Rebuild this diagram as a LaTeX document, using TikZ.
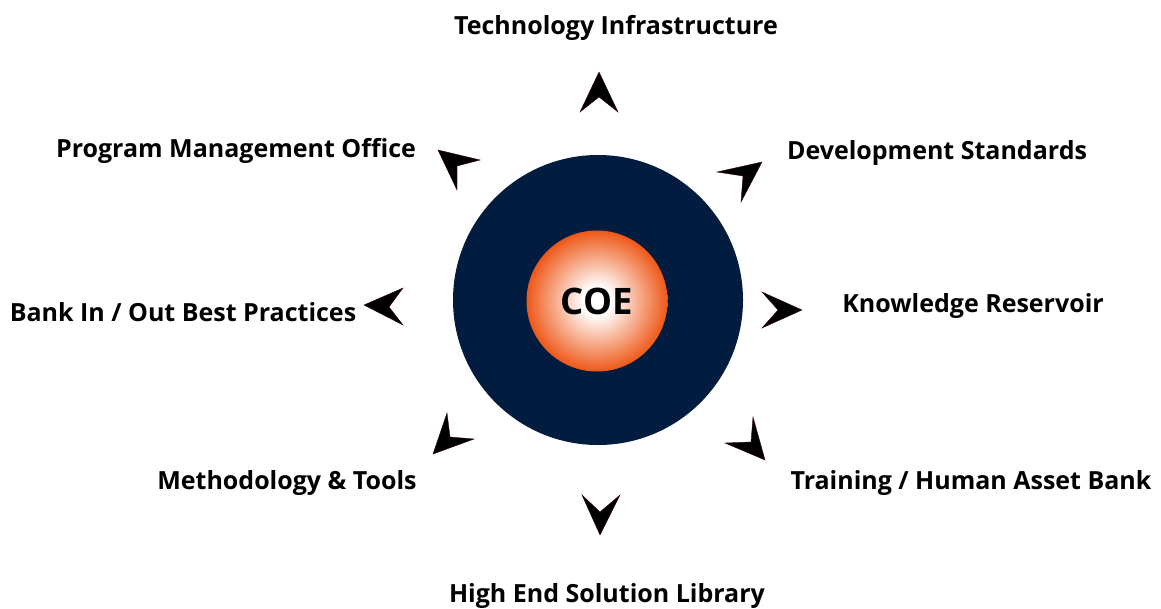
\documentclass[tikz,border=0pt]{standalone}
\usepackage{fontspec}
\setmainfont{Open Sans}
\definecolor{coenavy}{RGB}{2,28,64}
\definecolor{coeorange}{RGB}{238,88,24}
\pgfdeclareradialshading{coeball}{\pgfpoint{0bp}{0bp}}{color(0bp)=(white); color(5bp)=(white); color(14bp)=(coeorange!45!white); color(25bp)=(coeorange); color(50bp)=(coeorange)}
\begin{document}
\begin{tikzpicture}[x=1pt,y=-1pt,
  lbl/.style={font=\fontsize{25}{28}\selectfont\bfseries, anchor=base, inner sep=0pt},
  chev/.style={fill=black, draw=black!80!red, line width=0.4pt, line join=miter}]
\useasboundingbox (0,0) rectangle (1161,608);
% circles
\node[circle, fill=coenavy, minimum size=290pt, inner sep=0pt] (outer) at (598,300) {};
\node[circle, shading=coeball, minimum size=141pt, inner sep=0pt] (inner) at (597,301) {};
\node[font=\fontsize{36.5}{40}\selectfont\bfseries, inner sep=0pt] (coe) at (597,301) {COE};
% chevrons
\fill[chev] (599,72) -- (580,112) -- (599,97) -- (618,112) -- cycle;
\fill[chev] (762,162) -- (717,172) -- (743,176) -- (741,202) -- cycle;
\fill[chev] (802,310) -- (762,292) -- (778,310) -- (762,328) -- cycle;
\fill[chev] (765,460) -- (753,417) -- (751,442) -- (725,443) -- cycle;
\fill[chev] (600,535) -- (582,495) -- (600,512) -- (620,495) -- cycle;
\fill[chev] (433,454) -- (447,413) -- (450,437) -- (474,439) -- cycle;
\fill[chev] (364,305) -- (403,288) -- (389,307) -- (403,325) -- cycle;
\fill[chev] (438,150) -- (480,160) -- (457,166) -- (457,190) -- cycle;
% labels
\node[lbl] (t1) at (616,34) {Technology Infrastructure};
\node[lbl] (t2) at (937,159) {Development Standards};
\node[lbl] (t3) at (973,312) {Knowledge Reservoir};
\node[lbl] (t4) at (971,489) {Training / Human Asset Bank};
\node[lbl] (t5) at (607,602) {High End Solution Library};
\node[lbl] (t6) at (287,489) {Methodology \& Tools};
\node[lbl] (t7) at (183,321) {Bank In / Out Best Practices};
\node[lbl] (t8) at (236,157) {Program Management Office};
\end{tikzpicture}
\end{document}
